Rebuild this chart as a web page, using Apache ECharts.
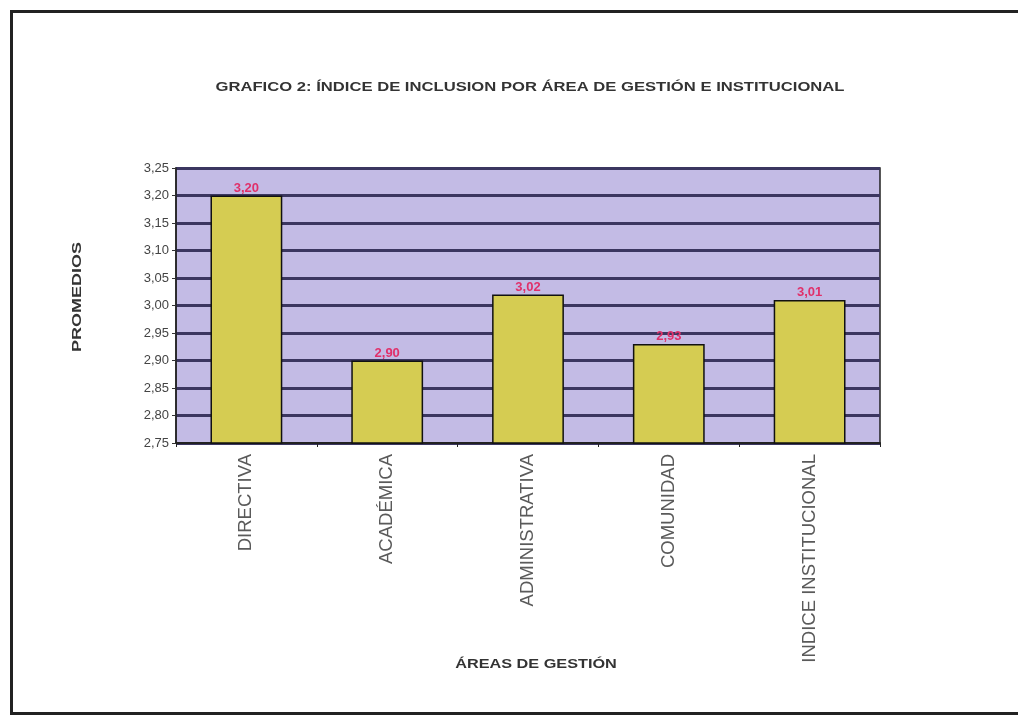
<!DOCTYPE html>
<html>
<head>
<meta charset="utf-8">
<script src="https://cdn.jsdelivr.net/npm/echarts@6/dist/echarts.min.js"></script>
<style>html,body{margin:0;padding:0;background:#fff}#c{width:1018px;height:719px}</style>
</head>
<body>
<div id="c"></div>
<script>
const categories = ['DIRECTIVA', 'ACADÉMICA', 'ADMINISTRATIVA', 'COMUNIDAD', 'INDICE INSTITUCIONAL'];
const values = [3.20, 2.90, 3.02, 2.93, 3.01];
const titleText = 'GRAFICO 2: ÍNDICE DE INCLUSION POR ÁREA DE GESTIÓN E INSTITUCIONAL';
const xTitle = 'ÁREAS DE GESTIÓN';
const yTitle = 'PROMEDIOS';

const fmt = v => Number(v).toFixed(2).replace('.', ',');
const chart = echarts.init(document.getElementById('c'), null, {renderer: 'canvas'});
chart.setOption({
  backgroundColor: '#ffffff',
  animation: false,
  graphic: [
    {type: 'rect', shape: {x: 11.5, y: 11.5, width: 1020, height: 702}, style: {fill: 'none', stroke: '#222', lineWidth: 3}, z: 0},
    {type: 'text', x: 530, y: 88, scaleX: 1.33, style: {text: titleText, font: 'bold 12.5px "Liberation Sans"', fill: '#333', align: 'center', verticalAlign: 'middle'}},
    {type: 'text', x: 536, y: 664, scaleX: 1.25, style: {text: xTitle, font: 'bold 13px "Liberation Sans"', fill: '#333', align: 'center', verticalAlign: 'middle'}},
    {type: 'text', x: 78, y: 297, rotation: Math.PI / 2, scaleX: 1.5, style: {text: yTitle, font: 'bold 12px "Liberation Sans"', fill: '#333', align: 'center', verticalAlign: 'middle'}}
  ],
  grid: {left: 176, right: 138, top: 168, bottom: 276, show: true, backgroundColor: '#c3bbe5', borderColor: '#222', borderWidth: 1.5},
  xAxis: {
    type: 'category', data: categories,
    axisLine: {lineStyle: {color: '#222', width: 2}},
    axisTick: {show: true, length: 4, lineStyle: {color: '#222'}},
    axisLabel: {rotate: 90, margin: 11, fontFamily: 'Liberation Sans', fontSize: 18.5, color: '#5a5a5a'}
  },
  yAxis: {
    type: 'value', min: 2.75, max: 3.25, interval: 0.05,
    axisLine: {show: true, lineStyle: {color: '#222', width: 1.5}},
    axisTick: {show: true, length: 4, lineStyle: {color: '#333'}},
    axisLabel: {formatter: fmt, fontFamily: 'Liberation Sans', fontSize: 13, color: '#444', margin: 7},
    splitLine: {show: true, lineStyle: {color: '#3b3660', width: 3}}
  },
  series: [{
    type: 'bar', data: values, barWidth: '51%',
    itemStyle: {color: '#d5cc52', borderColor: '#111', borderWidth: 1.5},
    label: {show: true, position: 'top', distance: 1, formatter: p => fmt(p.value), fontFamily: 'Liberation Sans', fontWeight: 'bold', fontSize: 13, color: '#e0306a'}
  }]
});
</script>
</body>
</html>
